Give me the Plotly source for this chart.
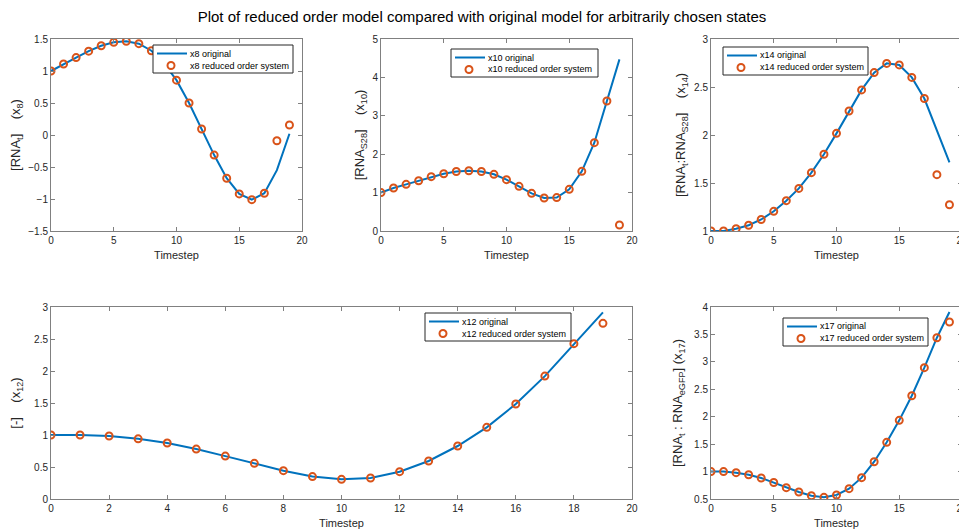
import plotly.graph_objects as go

t = list(range(20))

x8_orig = [1.0, 1.11, 1.21, 1.31, 1.395, 1.448, 1.463, 1.427, 1.317, 1.12, 0.857, 0.50, 0.094, -0.314, -0.675, -0.92, -1.01, -0.91, -0.55, 0.02]
x8_red = [1.0, 1.11, 1.21, 1.31, 1.395, 1.448, 1.463, 1.427, 1.317, 1.12, 0.857, 0.50, 0.094, -0.314, -0.675, -0.92, -1.01, -0.91, -0.09, 0.157]

x10_orig = [1.0, 1.12, 1.215, 1.31, 1.415, 1.49, 1.55, 1.57, 1.55, 1.476, 1.337, 1.163, 0.98, 0.86, 0.87, 1.085, 1.554, 2.30, 3.385, 4.47]
x10_red = [1.0, 1.12, 1.215, 1.31, 1.415, 1.49, 1.55, 1.57, 1.55, 1.476, 1.337, 1.163, 0.98, 0.86, 0.87, 1.085, 1.554, 2.30, 3.385, 0.156]

x14_orig = [1.0, 1.0, 1.024, 1.06, 1.12, 1.205, 1.316, 1.444, 1.608, 1.80, 2.017, 2.25, 2.47, 2.65, 2.746, 2.73, 2.60, 2.38, 2.05, 1.715]
x14_red = [1.0, 1.0, 1.024, 1.06, 1.12, 1.205, 1.316, 1.444, 1.608, 1.80, 2.017, 2.25, 2.47, 2.65, 2.746, 2.73, 2.60, 2.38, 1.587, 1.274]

x12_orig = [1.0, 1.0, 0.985, 0.94, 0.875, 0.78, 0.67, 0.557, 0.443, 0.35, 0.307, 0.328, 0.427, 0.594, 0.828, 1.12, 1.484, 1.92, 2.427, 2.917]
x12_red = [1.0, 1.0, 0.985, 0.94, 0.875, 0.78, 0.67, 0.557, 0.443, 0.35, 0.307, 0.328, 0.427, 0.594, 0.828, 1.12, 1.484, 1.92, 2.427, 2.745]

x17_orig = [1.0, 1.0, 0.98, 0.943, 0.883, 0.80, 0.707, 0.628, 0.561, 0.53, 0.573, 0.688, 0.889, 1.18, 1.533, 1.934, 2.383, 2.894, 3.44, 3.91]
x17_red = [1.0, 1.0, 0.98, 0.943, 0.883, 0.80, 0.707, 0.628, 0.561, 0.53, 0.573, 0.688, 0.889, 1.18, 1.533, 1.934, 2.383, 2.894, 3.44, 3.726]

state_names = ["x8", "x10", "x14", "x12", "x17"]
orig_series = [x8_orig, x10_orig, x14_orig, x12_orig, x17_orig]
red_series = [x8_red, x10_red, x14_red, x12_red, x17_red]
y_labels = [
    "[RNA<sub>t</sub>]\u00a0\u00a0\u00a0\u00a0(x<sub>8</sub>)",
    "[RNA<sub>S28</sub>]\u00a0\u00a0\u00a0\u00a0(x<sub>10</sub>)",
    "[RNA<sub>t</sub>:RNA<sub>S28</sub>]\u00a0\u00a0\u00a0\u00a0(x<sub>14</sub>)",
    "[-]\u00a0\u00a0\u00a0\u00a0(x<sub>12</sub>)",
    "[RNA<sub>t</sub>\u00a0:\u00a0RNA<sub>eGFP</sub>]\u00a0(x<sub>17</sub>)",
]
y_ranges = [[-1.5, 1.5], [0, 5], [1, 3], [0, 3], [0.5, 4]]
y_dticks = [0.5, 1, 0.5, 0.5, 0.5]
x_dticks = [5, 5, 5, 2, 5]
x_title = "Timestep"
title_text = "Plot of reduced order model compared with original model for arbitrarily chosen states"

# page is 967x531; the html body has an 8px margin, so the figure is offset by 8px
PAGE_W, PAGE_H = 967, 531
OFF = 8
W, H = PAGE_W - OFF, PAGE_H - OFF
# pixel boxes in page coords: (x0, x1, ytop, ybottom)
boxes = [
    (51, 302, 39, 231),
    (381, 632, 39, 231),
    (711, 962, 39, 231),
    (51, 632, 307, 499),
    (711, 962, 307, 499),
]
ytitle_standoff = [11, 4, 5, 11, 8]
# legend boxes: left, top, width (page pixels)
legboxes = [(153, 45, 140), (451, 49, 147), (723, 47, 145), (425, 313, 146), (783, 318, 145)]
LEG_H = 28

BLUE = "#0072BD"
ORANGE = "#D95319"
AX = "#262626"
AXLINE = "#808080"
FONT = "Liberation Sans, Arial, Helvetica, sans-serif"


def px(x):
    return (x - OFF) / W


def py(y):
    return (PAGE_H - y) / H


fig = go.Figure()
layout = dict(
    width=W, height=H,
    margin=dict(l=0, r=0, t=0, b=0, autoexpand=False),
    paper_bgcolor="white", plot_bgcolor="white",
    font=dict(family=FONT, size=10, color=AX),
    showlegend=False,
)
shapes = []
annotations = []

for i, name in enumerate(state_names):
    k = i + 1
    xa = "x" if k == 1 else f"x{k}"
    ya = "y" if k == 1 else f"y{k}"
    orig_name = f"{name} original"
    red_name = f"{name} reduced order system"
    fig.add_trace(go.Scatter(x=t, y=orig_series[i], mode="lines", name=orig_name,
                             line=dict(color=BLUE, width=2), xaxis=xa, yaxis=ya))
    fig.add_trace(go.Scatter(x=t, y=red_series[i], mode="markers", name=red_name,
                             marker=dict(symbol="circle-open", color=ORANGE, size=7,
                                         line=dict(width=2, color=ORANGE)),
                             xaxis=xa, yaxis=ya))
    x0, x1, yt, yb = boxes[i]
    axkey = "xaxis" if k == 1 else f"xaxis{k}"
    aykey = "yaxis" if k == 1 else f"yaxis{k}"
    layout[axkey] = dict(
        domain=[px(x0), px(x1)], anchor=ya, range=[0, 20], dtick=x_dticks[i], tick0=0,
        showline=True, mirror="ticks", linecolor=AXLINE, linewidth=1,
        ticks="inside", ticklen=4, tickcolor=AXLINE, showgrid=False, zeroline=False,
        title=dict(text=x_title, font=dict(size=11, color=AX), standoff=6),
        tickfont=dict(size=10, color=AX), ticklabeloverflow="allow", automargin=False,
    )
    layout[aykey] = dict(
        domain=[py(yb), py(yt)], anchor=xa, range=y_ranges[i], dtick=y_dticks[i], tick0=y_ranges[i][0],
        showline=True, mirror="ticks", linecolor=AXLINE, linewidth=1,
        ticks="inside", ticklen=4, tickcolor=AXLINE, showgrid=False, zeroline=False,
        title=dict(text=y_labels[i], font=dict(size=13, color=AX), standoff=ytitle_standoff[i]),
        tickfont=dict(size=10, color=AX), automargin=False,
    )
    # custom MATLAB-like legend box
    lx, ly, lw = legboxes[i]
    shapes.append(dict(type="rect", xref="paper", yref="paper",
                       x0=px(lx), x1=px(lx + lw), y0=py(ly + LEG_H), y1=py(ly),
                       line=dict(color=AX, width=1), fillcolor="white", layer="above"))
    shapes.append(dict(type="line", xref="paper", yref="paper",
                       x0=px(lx + 4), x1=px(lx + 34), y0=py(ly + 8.5), y1=py(ly + 8.5),
                       line=dict(color=BLUE, width=2), layer="above"))
    shapes.append(dict(type="circle", xref="paper", yref="paper",
                       xsizemode="pixel", ysizemode="pixel",
                       xanchor=px(lx + 18), yanchor=py(ly + 20.5),
                       x0=-3.5, x1=3.5, y0=-3.5, y1=3.5,
                       line=dict(color=ORANGE, width=2), layer="above"))
    annotations.append(dict(text=orig_name, xref="paper", yref="paper",
                            x=px(lx + 35), y=py(ly + 8.5), xanchor="left", yanchor="middle",
                            showarrow=False, font=dict(size=9, color="black")))
    annotations.append(dict(text=red_name, xref="paper", yref="paper",
                            x=px(lx + 35), y=py(ly + 20.5), xanchor="left", yanchor="middle",
                            showarrow=False, font=dict(size=9, color="black")))

layout["shapes"] = shapes
layout["annotations"] = annotations
layout["title"] = dict(
    text=title_text,
    x=px(482), xanchor="center", y=py(17), yanchor="middle",
    font=dict(size=15, color="black", family=FONT),
)

fig.update_layout(**layout)
fig.write_html("out.html")
